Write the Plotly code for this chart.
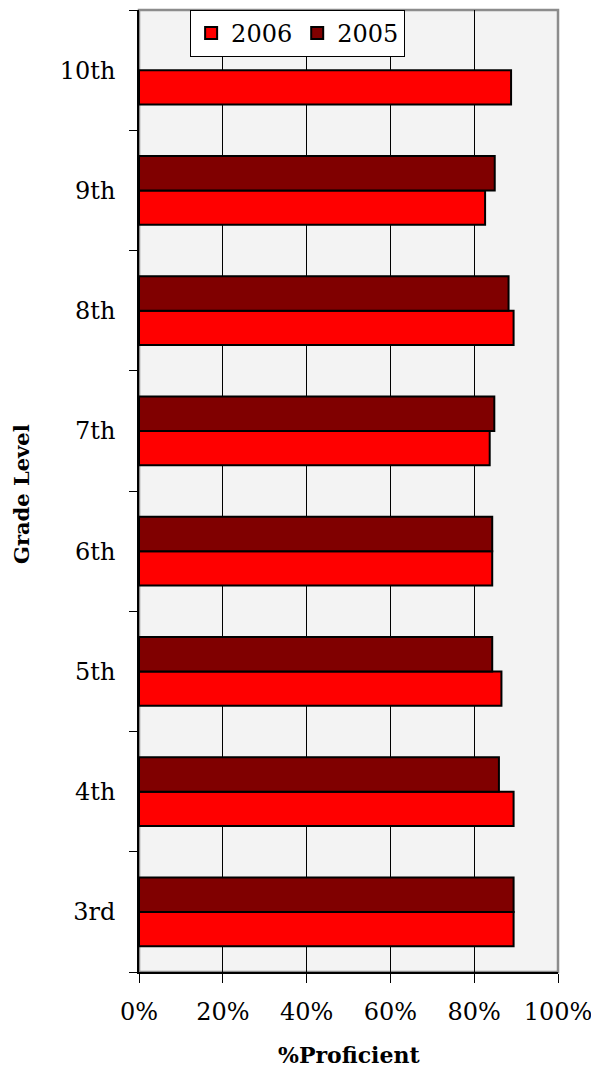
import plotly.graph_objects as go

grades = ["3rd", "4th", "5th", "6th", "7th", "8th", "9th", "10th"]
p2006 = [0.894, 0.894, 0.865, 0.843, 0.837, 0.894, 0.826, 0.888]
p2005 = [0.894, 0.859, 0.843, 0.843, 0.848, 0.882, 0.849, None]
xticks = [0, 0.2, 0.4, 0.6, 0.8, 1.0]
xticklabels = ["0%", "20%", "40%", "60%", "80%", "100%"]

serif = "DejaVu Serif"

fig = go.Figure()
fig.add_trace(go.Bar(y=grades, x=p2006, name="2006", orientation="h",
                     marker=dict(color="#ff0000", line=dict(color="black", width=2))))
fig.add_trace(go.Bar(y=grades, x=p2005, name="2005", orientation="h",
                     marker=dict(color="#800000", line=dict(color="black", width=2))))

fig.add_shape(type="rect", xref="paper", yref="paper", x0=0, x1=1, y0=0, y1=1,
              line=dict(color="#8c8c8c", width=2.5), layer="below")

fig.add_annotation(text="<b>%Proficient</b>", xref="paper", yref="paper",
                   x=0.502, y=-0.086, xanchor="center", yanchor="middle",
                   showarrow=False, font=dict(family=serif, size=22, color="black"))
fig.add_annotation(text="<b>Grade Level</b>", xref="paper", yref="paper",
                   x=-0.279, y=0.497, xanchor="center", yanchor="middle", textangle=-90,
                   showarrow=False, font=dict(family=serif, size=21, color="black"))

fig.update_layout(
    width=591, height=1066,
    margin=dict(l=131, r=41, t=2, b=102),
    paper_bgcolor="white", plot_bgcolor="#f3f3f3",
    barmode="group", bargap=0.43, bargroupgap=0,
    font=dict(family=serif, color="black", size=24),
    legend=dict(orientation="h", x=0.122, xanchor="left", y=1.0, yanchor="top",
                bgcolor="white", bordercolor="black", borderwidth=1,
                font=dict(family=serif, size=24), itemwidth=30, tracegroupgap=0),
    xaxis=dict(range=[0, 1], tickvals=xticks, ticktext=xticklabels,
               showgrid=True, gridcolor="black", gridwidth=1,
               showline=True, linecolor="black", linewidth=1.5,
               ticks="outside", ticklen=9, tickcolor="black",
               tickfont=dict(family=serif, size=24), ticklabelstandoff=8,
               ticklabeloverflow="allow",
               zeroline=False, automargin=False),
    yaxis=dict(categoryorder="array", categoryarray=grades,
               showgrid=False, showline=True, linecolor="black", linewidth=1.5,
               ticks="outside", ticklen=8, tickcolor="black", tickson="boundaries",
               tickfont=dict(family=serif, size=24), ticklabelstandoff=17,
               automargin=False),
)

fig.write_html("out.html")
